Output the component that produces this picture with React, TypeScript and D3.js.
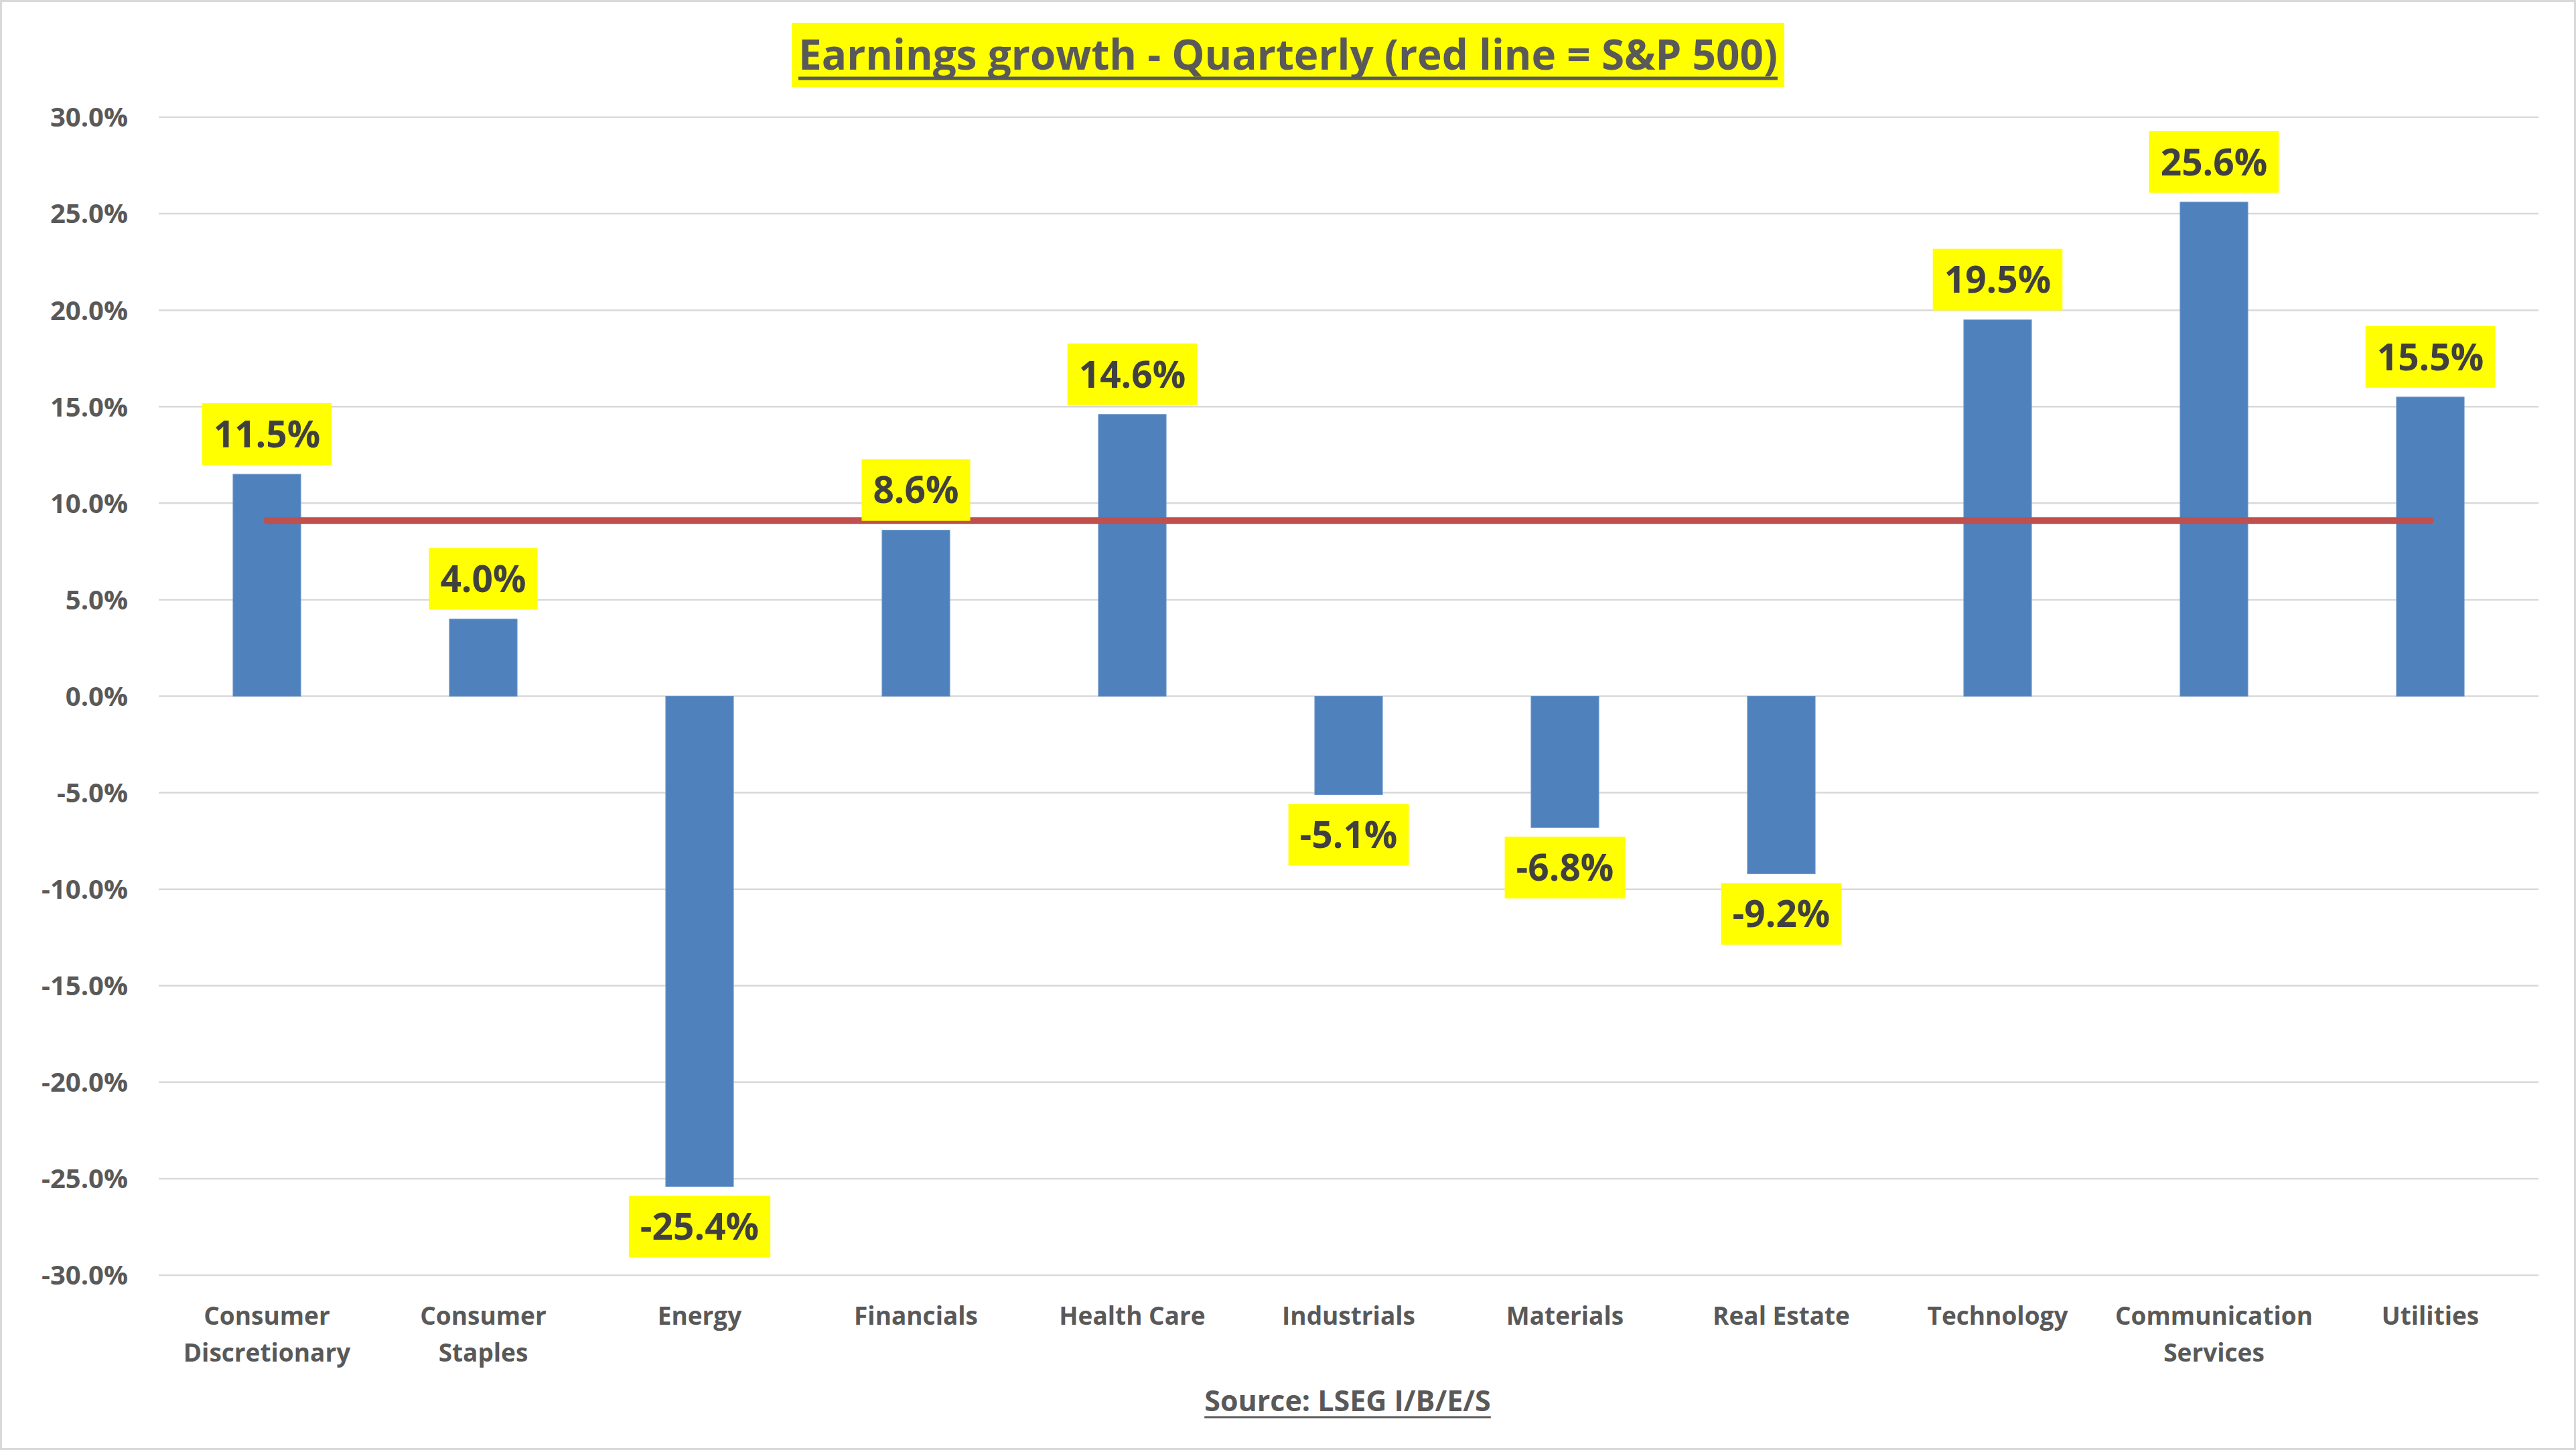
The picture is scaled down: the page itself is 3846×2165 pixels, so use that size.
import React, { useEffect, useRef } from "react";
import * as d3 from "d3";

const categories = [
  ["Consumer", "Discretionary"],
  ["Consumer", "Staples"],
  ["Energy"],
  ["Financials"],
  ["Health Care"],
  ["Industrials"],
  ["Materials"],
  ["Real Estate"],
  ["Technology"],
  ["Communication", "Services"],
  ["Utilities"],
];
const growth = [11.5, 4.0, -25.4, 8.6, 14.6, -5.1, -6.8, -9.2, 19.5, 25.6, 15.5];
const sp500 = 9.1;
const yTicks = [30, 25, 20, 15, 10, 5, 0, -5, -10, -15, -20, -25, -30];
const titleText = "Earnings growth - Quarterly (red line = S&P 500)";
const sourceText = "Source: LSEG I/B/E/S";

const W = 3846;
const H = 2165;
const FONT = "'Open Sans', 'Noto Sans', sans-serif";

export default function App() {
  const ref = useRef<SVGSVGElement>(null);

  useEffect(() => {
    const svg = d3.select(ref.current);
    svg.selectAll("*").remove();

    const left = 237, right = 3790, top = 175, bottom = 1904;
    const keys = categories.map((c) => c.join(" "));
    const x = d3.scaleBand<string>().domain(keys).range([left, right]).paddingInner(0.687).paddingOuter(0.3435);
    const y = d3.scaleLinear().domain([-30, 30]).range([bottom, top]);

    svg.append("rect").attr("x", 1.5).attr("y", 1.5).attr("width", W - 3).attr("height", H - 3)
      .attr("fill", "#fff").attr("stroke", "#D9D9D9").attr("stroke-width", 3);

    // gridlines
    svg.append("g").selectAll("line").data(yTicks).join("line")
      .attr("x1", left).attr("x2", right)
      .attr("y1", (d) => y(d)).attr("y2", (d) => y(d))
      .attr("stroke", "#D9D9D9").attr("stroke-width", 2.5);

    // y labels
    svg.append("g").selectAll("text").data(yTicks).join("text")
      .attr("x", 191).attr("y", (d) => y(d)).attr("dy", "0.36em")
      .attr("text-anchor", "end").attr("font-family", FONT).attr("font-weight", 700)
      .attr("font-size", 40).attr("fill", "#595959")
      .text((d) => d.toFixed(1) + "%");

    // bars
    svg.append("g").selectAll("rect").data(growth).join("rect")
      .attr("x", (_, i) => x(keys[i])!)
      .attr("width", x.bandwidth())
      .attr("y", (d) => y(Math.max(0, d)))
      .attr("height", (d) => Math.abs(y(d) - y(0)))
      .attr("fill", "#4F81BD").attr("stroke", "#6A95C9").attr("stroke-width", 1);

    // red line
    const cx = (i: number) => x(keys[i])! + x.bandwidth() / 2;
    svg.append("line")
      .attr("x1", cx(0)).attr("x2", cx(keys.length - 1))
      .attr("y1", y(sp500)).attr("y2", y(sp500))
      .attr("stroke", "#C0504D").attr("stroke-width", 10).attr("stroke-linecap", "round");

    // data labels
    const lg = svg.append("g");
    growth.forEach((v, i) => {
      const g = lg.append("g");
      const boxH = 92, gap = 14;
      const boxTop = v >= 0 ? y(v) - gap - boxH : y(v) + gap;
      const rect = g.append("rect").attr("fill", "#FFFF00");
      const t = g.append("text")
        .attr("x", cx(i)).attr("y", boxTop + boxH / 2).attr("dy", "0.36em")
        .attr("text-anchor", "middle").attr("font-family", FONT).attr("font-weight", 700)
        .attr("font-size", 55).attr("fill", "#404040")
        .text(v.toFixed(1) + "%");
      const bb = (t.node() as SVGTextElement).getBBox();
      rect.attr("x", bb.x - 17).attr("width", bb.width + 34).attr("y", boxTop).attr("height", boxH);
    });

    // x labels
    const xg = svg.append("g");
    categories.forEach((lines, i) => {
      lines.forEach((ln, j) => {
        xg.append("text")
          .attr("x", cx(i)).attr("y", 1965 + j * 55).attr("dy", "0.36em")
          .attr("text-anchor", "middle").attr("font-family", FONT).attr("font-weight", 700)
          .attr("font-size", 37).attr("fill", "#595959").text(ln);
      });
    });

    // title
    const tg = svg.append("g");
    const trect = tg.append("rect").attr("fill", "#FFFF00");
    const tt = tg.append("text")
      .attr("x", 1923).attr("y", 82).attr("dy", "0.36em")
      .attr("text-anchor", "middle").attr("font-family", FONT).attr("font-weight", 700)
      .attr("font-size", 62).attr("fill", "#595959").text(titleText);
    const tb = (tt.node() as SVGTextElement).getBBox();
    trect.attr("x", 1182).attr("width", 2664 - 1182).attr("y", 34).attr("height", 96);
    tg.append("line").attr("x1", tb.x).attr("x2", tb.x + tb.width)
      .attr("y1", 117).attr("y2", 117).attr("stroke", "#595959").attr("stroke-width", 5);

    // source
    const st = svg.append("text")
      .attr("x", 2012).attr("y", 2092).attr("dy", "0.36em")
      .attr("text-anchor", "middle").attr("font-family", FONT).attr("font-weight", 700)
      .attr("font-size", 43).attr("fill", "#595959").text(sourceText);
    const sb = (st.node() as SVGTextElement).getBBox();
    svg.append("line").attr("x1", sb.x).attr("x2", sb.x + sb.width)
      .attr("y1", 2116).attr("y2", 2116).attr("stroke", "#595959").attr("stroke-width", 3);
  }, []);

  return (
    <svg ref={ref} width={W} height={H} style={{ position: "absolute", left: 0, top: 0 }} />
  );
}
